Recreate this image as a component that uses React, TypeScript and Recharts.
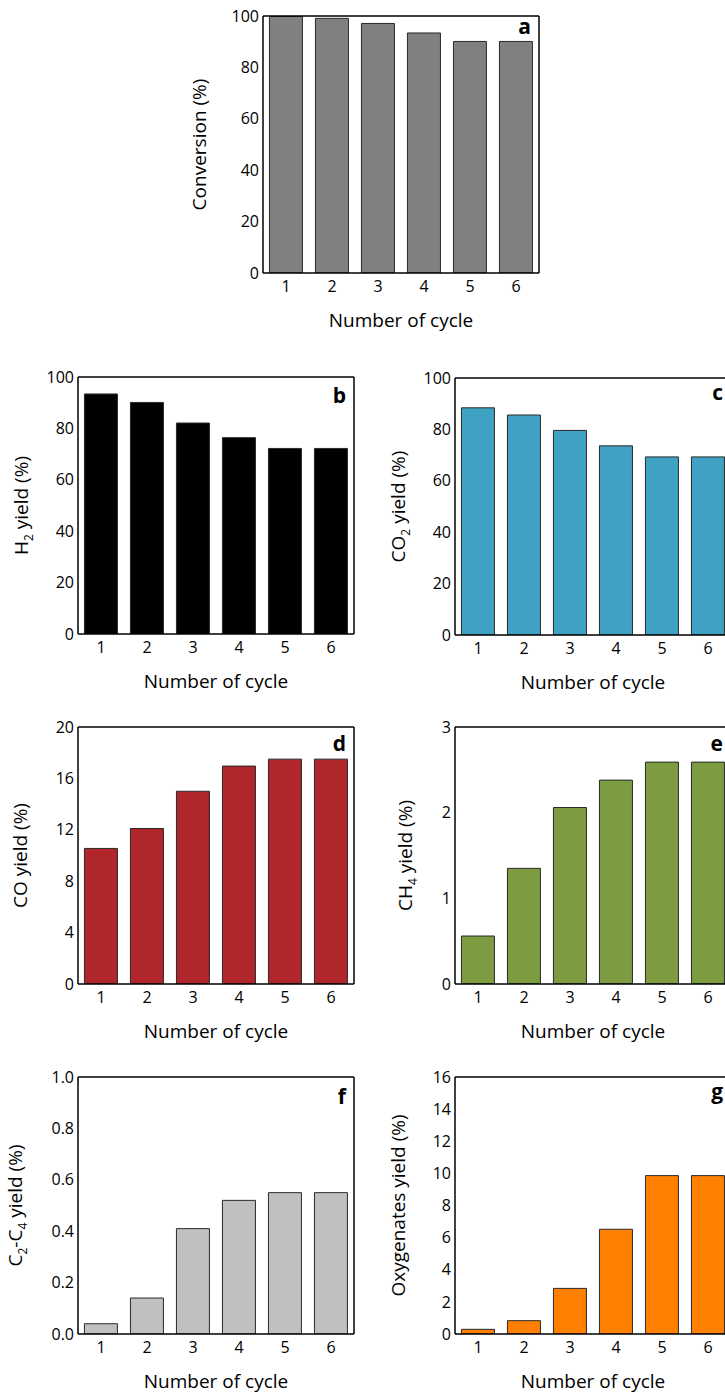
import React from "react";
import { BarChart, Bar, XAxis, YAxis } from "recharts";

// values
const cycles = ["1", "2", "3", "4", "5", "6"];
const conversion = [99.8, 99.1, 97.1, 93.4, 90.1, 90.1];
const h2Yield = [93.4, 90.1, 82.1, 76.4, 72.2, 72.2];
const co2Yield = [88.4, 85.6, 79.6, 73.6, 69.3, 69.3];
const coYield = [10.55, 12.1, 15.0, 16.96, 17.5, 17.5];
const ch4Yield = [0.56, 1.35, 2.06, 2.38, 2.59, 2.59];
const c2c4Yield = [0.04, 0.14, 0.41, 0.52, 0.55, 0.55];
const oxygenatesYield = [0.29, 0.83, 2.84, 6.52, 9.86, 9.86];

const ticksPercent = [0, 20, 40, 60, 80, 100];
const ticksCo = [0, 4, 8, 12, 16, 20];
const ticksCh4 = [0, 1, 2, 3];
const ticksC2c4 = [0, 0.2, 0.4, 0.6, 0.8, 1.0];
const ticksOxy = [0, 2, 4, 6, 8, 10, 12, 14, 16];
const cycleBounds = [1.5, 2.5, 3.5, 4.5, 5.5];

const FONT = "'Open Sans', 'Noto Sans', sans-serif";
const AXIS = { stroke: "#000", strokeWidth: 1.5 };
const PLOT_H = 257;

type Seg = { t: string; sub?: boolean };

const YTitle = ({ viewBox, parts, gap }: any) => {
  if (!viewBox) return null;
  const cx = viewBox.x + viewBox.width - gap;
  const cy = viewBox.y + viewBox.height / 2;
  return (
    <text
      x={cx}
      y={cy}
      dy="0.36em"
      textAnchor="middle"
      transform={`rotate(-90 ${cx} ${cy})`}
      fontSize={19}
      fontFamily={FONT}
      fill="#000"
    >
      {parts.map((p: Seg, i: number) =>
        p.sub ? (
          <tspan key={i} fontSize={12} dy={5}>
            {p.t}
          </tspan>
        ) : (
          <tspan key={i} dy={i > 0 && parts[i - 1].sub ? -5 : 0}>
            {p.t}
          </tspan>
        )
      )}
    </text>
  );
};

const XTitle = ({ viewBox, letter, letterDy }: any) => {
  if (!viewBox) return null;
  const { x, y, width } = viewBox;
  return (
    <g>
      <text
        x={x + width / 2}
        y={y + 54}
        textAnchor="middle"
        fontSize={19}
        fontFamily={FONT}
        fill="#000"
      >
        Number of cycle
      </text>
      <text
        x={x + width - 8}
        y={y - PLOT_H + letterDy}
        textAnchor="end"
        fontSize={21}
        fontWeight={700}
        fontFamily={FONT}
        fill="#000"
      >
        {letter}
      </text>
    </g>
  );
};

const Panel = ({
  left,
  top,
  values,
  ticks,
  color,
  title,
  titleGap,
  letter,
  letterDy,
  decimals = 0,
}: {
  left: number;
  top: number;
  values: number[];
  ticks: number[];
  color: string;
  title: Seg[];
  titleGap: number;
  letter: string;
  letterDy: number;
  decimals?: number;
}) => {
  const data = cycles.map((c, i) => ({ cycle: c, value: values[i] }));
  const minor = ticks.slice(1).map((t, i) => (t + ticks[i]) / 2);
  const max = ticks[ticks.length - 1];
  return (
    <div style={{ position: "absolute", left, top }}>
      <BarChart
        width={368}
        height={337}
        data={data}
        margin={{ top: 15, right: 12, bottom: 0, left: 0 }}
        barCategoryGap="14%"
      >
        <XAxis
          xAxisId="cat"
          dataKey="cycle"
          height={65}
          tickLine={false}
          axisLine={AXIS}
          tick={{ fill: "#000", fontSize: 16, fontFamily: FONT }}
          label={{
            content: (p: any) => (
              <XTitle viewBox={p.viewBox} letter={letter} letterDy={letterDy} />
            ),
          }}
        />
        <XAxis
          xAxisId="bounds"
          type="number"
          domain={[0.5, 6.5]}
          allowDataOverflow
          ticks={cycleBounds}
          mirror
          tick={false}
          tickSize={4}
          axisLine={false}
          tickLine={AXIS}
        />
        <XAxis
          xAxisId="top"
          orientation="top"
          mirror
          tick={false}
          tickLine={false}
          axisLine={AXIS}
        />
        <YAxis
          yAxisId="main"
          width={80}
          domain={[0, max]}
          allowDataOverflow
          ticks={ticks}
          tickLine={false}
          tickSize={4}
          tickMargin={0}
          axisLine={AXIS}
          tick={{ fill: "#000", fontSize: 16, fontFamily: FONT }}
          tickFormatter={(v: number) => v.toFixed(decimals)}
          label={{
            content: (p: any) => (
              <YTitle viewBox={p.viewBox} parts={title} gap={titleGap} />
            ),
          }}
        />
        <YAxis
          yAxisId="major"
          mirror
          domain={[0, max]}
          allowDataOverflow
          ticks={ticks}
          tick={false}
          tickSize={6}
          axisLine={false}
          tickLine={AXIS}
        />
        <YAxis
          yAxisId="minor"
          mirror
          domain={[0, max]}
          allowDataOverflow
          ticks={minor}
          tick={false}
          tickSize={3}
          axisLine={false}
          tickLine={AXIS}
        />
        <YAxis
          yAxisId="right"
          orientation="right"
          mirror
          tick={false}
          tickLine={false}
          axisLine={AXIS}
        />
        <Bar
          xAxisId="cat"
          yAxisId="main"
          dataKey="value"
          fill={color}
          stroke="#2a2a2a"
          strokeWidth={1}
          isAnimationActive={false}
        />
      </BarChart>
    </div>
  );
};

export default function App() {
  return (
    <div
      style={{
        position: "absolute",
        left: 0,
        top: 0,
        width: 725,
        height: 1394,
        overflow: "hidden",
        background: "#fff",
      }}
    >
      <Panel
        left={182.5}
        top={1}
        values={conversion}
        ticks={ticksPercent}
        color="#808080"
        title={[{ t: "Conversion (%)" }]}
        titleGap={57}
        letter="a"
        letterDy={18}
      />
      <Panel
        left={-2}
        top={362}
        values={h2Yield}
        ticks={ticksPercent}
        color="#000000"
        title={[{ t: "H" }, { t: "2", sub: true }, { t: " yield (%)" }]}
        titleGap={50}
        letter="b"
        letterDy={26}
      />
      <Panel
        left={375}
        top={362.5}
        values={co2Yield}
        ticks={ticksPercent}
        color="#3fa2c2"
        title={[{ t: "CO" }, { t: "2", sub: true }, { t: " yield (%)" }]}
        titleGap={50}
        letter="c"
        letterDy={22}
      />
      <Panel
        left={-2}
        top={712}
        values={coYield}
        ticks={ticksCo}
        color="#b0262b"
        title={[{ t: "CO yield (%)" }]}
        titleGap={51}
        letter="d"
        letterDy={24}
      />
      <Panel
        left={375}
        top={712}
        values={ch4Yield}
        ticks={ticksCh4}
        color="#7d9c41"
        title={[{ t: "CH" }, { t: "4", sub: true }, { t: " yield (%)" }]}
        titleGap={43}
        letter="e"
        letterDy={24}
      />
      <Panel
        left={-2}
        top={1062}
        values={c2c4Yield}
        ticks={ticksC2c4}
        color="#c0c0c0"
        title={[
          { t: "C" },
          { t: "2", sub: true },
          { t: "-C" },
          { t: "4", sub: true },
          { t: " yield (%)" },
        ]}
        titleGap={56}
        letter="f"
        letterDy={27}
        decimals={1}
      />
      <Panel
        left={375}
        top={1062}
        values={oxygenatesYield}
        ticks={ticksOxy}
        color="#ff8000"
        title={[{ t: "Oxygenates yield (%)" }]}
        titleGap={50}
        letter="g"
        letterDy={22}
      />
    </div>
  );
}
